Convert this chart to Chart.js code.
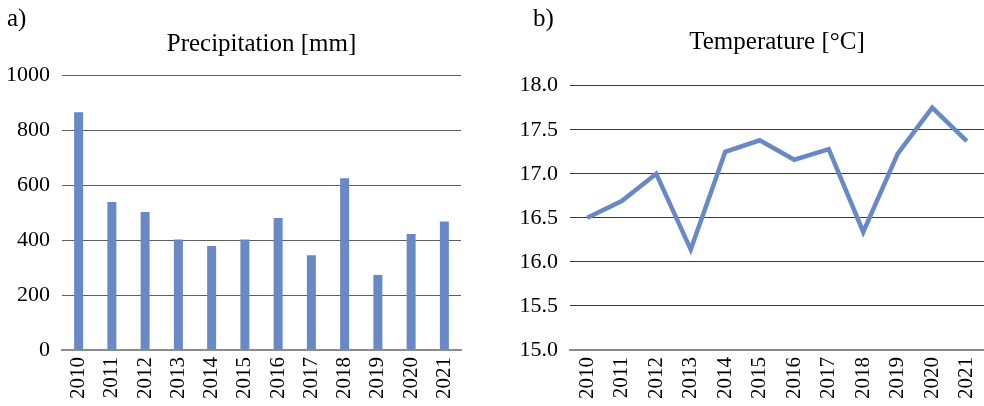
<!DOCTYPE html>
<html>
<head>
<meta charset="utf-8">
<script src="https://cdn.jsdelivr.net/npm/chart.js@4"></script>
<style>
  body { margin: 0; background: #fff; }
  #wrap { position: relative; width: 984px; height: 406px; font-family: "Liberation Serif", serif; }
  .panel { position: absolute; top: 0; height: 406px; }
  .tag { position: absolute; top: 4px; font-size: 25px; color: #000; }
</style>
</head>
<body>
<div id="wrap">
  <div class="panel" style="left:0;width:470px"><canvas id="rain-chart"></canvas></div>
  <div class="panel" style="left:500px;width:484px"><canvas id="temp-chart"></canvas></div>
  <div class="tag" style="left:7px">a)</div>
  <div class="tag" style="left:533px">b)</div>
</div>
<script>
// 数据
const years = ['2010', '2011', '2012', '2013', '2014', '2015', '2016', '2017', '2018', '2019', '2020', '2021'];
const precipitation = [865, 538, 502, 402, 378, 402, 480, 345, 625, 273, 422, 467];
const temperature = [16.50, 16.69, 17.00, 16.14, 17.25, 17.38, 17.16, 17.28, 16.34, 17.23, 17.75, 17.37];

const blue = '#6888c6';
const font = 'Liberation Serif';

// 公共坐标轴设置
function xAxis() {
    return {
        offset: true,
        grid: { display: false, drawTicks: false, offset: true },
        border: { display: true, color: '#8c8c8c', width: 2 },
        ticks: { color: '#000', font: { family: font, size: 21 }, minRotation: 90, maxRotation: 90, padding: 7, autoSkip: false },
        afterFit: s => {
            s.height = 56;
            s.paddingLeft = 0;
            s.paddingRight = 0;
        }
    };
}

function yAxis(min, max, step, width, gridColor, fmt) {
    return {
        min: min, max: max,
        grid: { color: gridColor, lineWidth: 1, drawTicks: false },
        border: { display: false },
        ticks: { stepSize: step, color: '#000', font: { family: font, size: 22 }, padding: 12, callback: fmt },
        afterFit: s => { s.width = width; }
    };
}

function titleOpts(text, top, bottom) {
    return {
        display: true, text: text, color: '#000', fullSize: false,
        font: { family: font, size: 25, weight: 'normal' },
        padding: { top: top, bottom: bottom }
    };
}

Chart.defaults.animation = false;

new Chart(document.getElementById('rain-chart'), {
    type: 'bar',
    data: {
        labels: years,
        datasets: [{ data: precipitation, backgroundColor: blue, categoryPercentage: 1, barPercentage: 0.27 }]
    },
    options: {
        responsive: true,
        maintainAspectRatio: false,
        layout: { padding: { left: 0, right: 9, top: 0, bottom: 0 } },
        scales: {
            x: xAxis(),
            y: yAxis(0, 1000, 200, 62, '#5e5e5e', v => v)
        },
        plugins: {
            legend: { display: false },
            tooltip: { enabled: false },
            title: titleOpts('Precipitation [mm]', 29, 16)
        }
    }
});

new Chart(document.getElementById('temp-chart'), {
    type: 'line',
    data: {
        labels: years,
        datasets: [{ data: temperature, borderColor: blue, borderWidth: 4.5, pointRadius: 0, tension: 0, fill: false }]
    },
    options: {
        responsive: true,
        maintainAspectRatio: false,
        layout: { padding: { left: 0, right: 0, top: 0, bottom: 0 } },
        scales: {
            x: xAxis(),
            y: yAxis(15, 18, 0.5, 70, '#3a3a3a', v => v.toFixed(1))
        },
        plugins: {
            legend: { display: false },
            tooltip: { enabled: false },
            title: titleOpts('Temperature [°C]', 27, 28.7)
        }
    }
});
</script>
</body>
</html>
